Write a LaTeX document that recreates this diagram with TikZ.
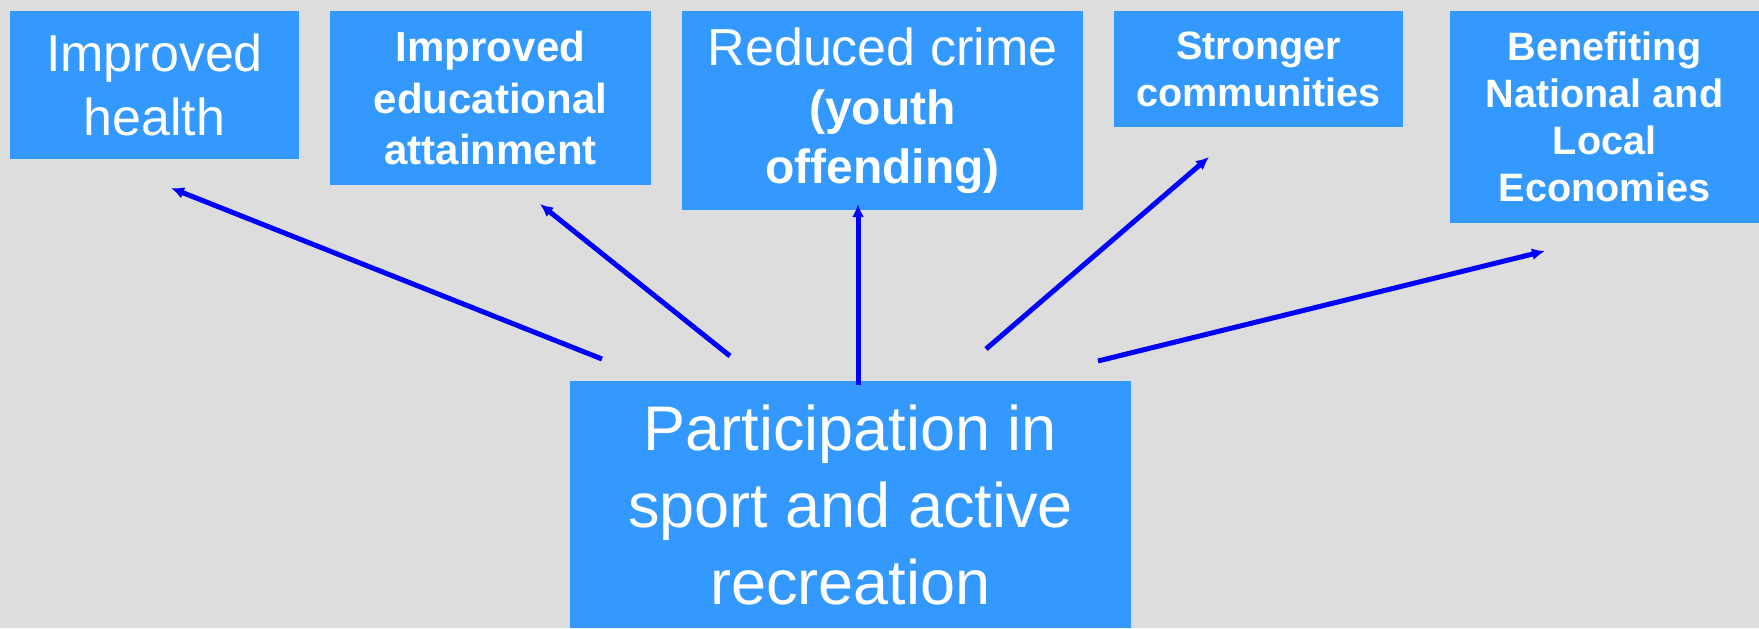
\documentclass[tikz,border=0pt]{standalone}
\usepackage{fontspec}
\setmainfont{Liberation Sans}
\usepackage{tikz}
\usetikzlibrary{arrows.meta}
\definecolor{boxblue}{RGB}{51,153,255}
\definecolor{bggray}{RGB}{221,221,221}
\definecolor{arrowblue}{RGB}{0,0,255}
\tikzstyle{outcome}=[rectangle, fill=boxblue, draw=none, text=white, align=center, inner sep=0pt]
\tikzstyle{arrow}=[-{Latex[length=6.5pt,width=6pt]}, draw=arrowblue, line width=2.5pt]

\begin{document}
\begin{tikzpicture}[x=0.5pt, y=-0.5pt]
            \fill [bggray] (0, 0) rectangle (1759, 628);
            \useasboundingbox (0, 0) rectangle (1759, 628);

            \node [style=outcome, minimum width=144.5pt, minimum height=74pt,
                font=\fontsize{26}{32}\selectfont] (health) at (154.5, 85)
                {Improved\\health};
            \node [style=outcome, minimum width=160.5pt, minimum height=87pt,
                font=\fontsize{21}{25.7}\selectfont\bfseries] (educ) at (490.5, 98)
                {Improved\\educational\\attainment};
            \node [style=outcome, minimum width=200.5pt, minimum height=99.5pt,
                font=\fontsize{24}{29.5}\selectfont\bfseries] (crime) at (882.5, 110.5)
                {{\mdseries\fontsize{26}{29.5}\selectfont Reduced crime}\\(youth\\offending)};
            \node [style=outcome, minimum width=144.5pt, minimum height=58pt,
                font=\fontsize{19.8}{23.5}\selectfont\bfseries] (comm) at (1258.5, 69)
                {Stronger\\communities};
            \node [style=outcome, minimum width=154.5pt, minimum height=106pt,
                font=\fontsize{19.8}{23.5}\selectfont\bfseries] (econ) at (1604.5, 117)
                {Benefiting\\National and\\Local\\Economies};

            \node [style=outcome, minimum width=280.5pt, minimum height=123.5pt,
                font=\fontsize{31.5}{38.5}\selectfont] (sport) at (850.5, 504.5)
                {Participation in\\sport and active\\recreation};

            % arrow ends
            \coordinate (t1) at (602, 359);
            \coordinate (h1) at (171, 188);
            \coordinate (t2) at (730, 356);
            \coordinate (h2) at (540, 204);
            \coordinate (t3) at (858, 385);
            \coordinate (h3) at (858, 204);
            \coordinate (t4) at (986, 349);
            \coordinate (h4) at (1209, 157);
            \coordinate (t5) at (1098, 361);
            \coordinate (h5) at (1545, 251);

            \draw [style=arrow] (t1) to (h1);
            \draw [style=arrow] (t2) to (h2);
            \draw [style=arrow] (t3) to (h3);
            \draw [style=arrow] (t4) to (h4);
            \draw [style=arrow] (t5) to (h5);
\end{tikzpicture}
\end{document}
